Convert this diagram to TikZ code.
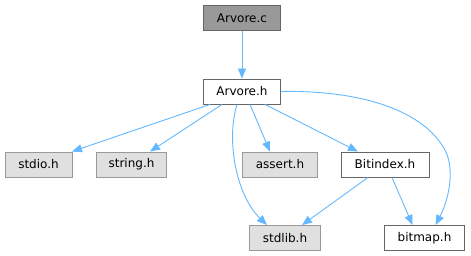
\documentclass[tikz,border=0pt]{standalone}
\usepackage{fontspec}
\setmainfont{DejaVu Sans}
\usetikzlibrary{arrows.meta}

\definecolor{edgeblue}{HTML}{63B8FF}

\begin{document}
\begin{tikzpicture}[x=1pt, y=-1pt, line width=0.9pt,
    file/.style={draw=black!60, fill=white, minimum height=25pt, inner sep=0pt,
        font=\fontsize{12}{14}\selectfont},
    root/.style={file, fill=black!40},
    sys/.style={file, draw=black!40, fill=black!12},
    dep/.style={draw=edgeblue, -{Triangle[length=10pt,width=8pt]}}]
             \useasboundingbox (0,0) rectangle (471,256);

             \node[root, minimum width=77pt] (arvorec) at (242,18) {Arvore.c};
             \node[file, minimum width=77pt] (arvoreh) at (242,91.5) {Arvore.h};

             \node[sys, minimum width=67pt] (stdio) at (38.5,164.5) {stdio.h};
             \node[sys, minimum width=70pt] (string) at (131.5,164.5) {string.h};
             \node[sys, minimum width=75pt] (assert) at (280,164.5) {assert.h};
             \node[file, minimum width=88pt] (bitindex) at (385,164.5) {Bitindex.h};

             \node[sys, minimum width=71pt] (stdlib) at (285,238) {stdlib.h};
             \node[file, minimum width=80pt] (bitmap) at (424.5,238) {bitmap.h};

             \draw[dep] (arvorec) -- (arvoreh);

             \draw[dep] ([xshift=-32pt]arvoreh.south) -- ([xshift=33.5pt]stdio.north);
             \draw[dep] ([xshift=-20pt]arvoreh.south) -- ([xshift=18.5pt]string.north);
             \draw[dep] ([xshift=-5pt]arvoreh.south)
                 .. controls (226,140) and (236,195) .. ([xshift=-18pt]stdlib.north);
             \draw[dep] ([xshift=8pt]arvoreh.south) -- ([xshift=-10pt]assert.north);
             \draw[dep] ([xshift=23pt]arvoreh.south) -- ([xshift=-27pt]bitindex.north);
             \draw[dep] (arvoreh.east)
                 .. controls (360,90) and (425,110) .. (446,152)
                 .. controls (456,175) and (446,205) .. ([xshift=11pt]bitmap.north);

             \draw[dep] ([xshift=-17pt]bitindex.south) -- ([xshift=17pt]stdlib.north);
             \draw[dep] ([xshift=7pt]bitindex.south) -- ([xshift=-12pt]bitmap.north);
         \end{tikzpicture}
\end{document}
